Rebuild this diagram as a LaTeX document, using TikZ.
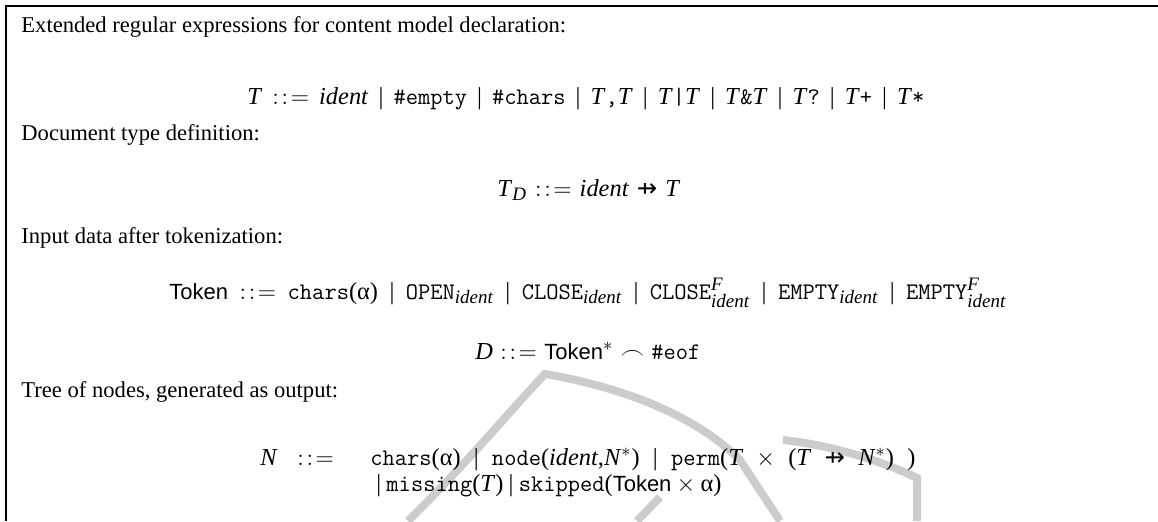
\documentclass[tikz,border=0pt]{standalone}
\usepackage{amsmath}
\usepackage{fontspec}
\setmainfont{Liberation Serif}
\setsansfont{Liberation Sans}
\newfontfamily\dvsfont{DejaVu Sans}
\newcommand\pfun{{\dvsfont ⇸}}
\newcommand\idt{\textit{ident}}
\newcommand\tI{\textit{T}}
\newcommand\tok{{\sffamily\fontsize{11}{13}\selectfont Token}}
\newcommand\mono[1]{{\ttfamily\fontsize{11.9}{14}\selectfont #1}}
\newcommand\xgap{\hskip 2.8pt plus 1fil minus 1.8pt\relax}
\newcommand\xalt{\xgap|\xgap}
\newcommand\ygap{\hskip 2.6pt\relax}
\newcommand\yalt{\ygap|\ygap}
\newcommand\xbnf{\xgap$:\mkern2mu:\mkern2mu=$\xgap}
\newcommand\xsub[1]{$_{\text{\fontsize{9.5}{11}\selectfont\itshape #1}}$}
\newcommand\xsubsup[2]{$^{\text{\fontsize{9.5}{11}\selectfont\itshape #2}}_{\text{\fontsize{9.5}{11}\selectfont\itshape #1}}$}
\definecolor{wm}{gray}{0.8}
\begin{document}
\begin{tikzpicture}[x=0.5pt,y=-0.5pt,
  every node/.style={inner sep=0pt,font=\fontsize{11.3}{13.6}\selectfont},
  txt/.style={anchor=base west},
  eqn/.style={anchor=base west,font=\fontsize{12.2}{14.6}\selectfont},
  frame/.style={line width=0.9pt},
  wmk/.style={draw=wm,line width=4pt}]
\useasboundingbox (0,0) rectangle (1158,521);
% watermark
\draw[wmk] (408,521) .. controls (470,460) and (515,405) .. (545,374)
  .. controls (610,385) and (690,410) .. (740,460) -- (780,521);
\draw[wmk] (783,440) .. controls (830,445) and (880,460) .. (917,478) -- (917,521);
\draw[wmk] (637,521) -- (660,497);
% frame
\coordinate (tl) at (6,6);
\coordinate (tr) at (1158,6);
\coordinate (bl) at (6,521);
\draw[frame] (tr) -- (tl) -- (bl);
% texts
\node[txt] (h1) at (21,32) {Extended regular expressions for content model declaration:};
\node[eqn] (e1) at (247,104) {\hbox to 338.5pt{\tI\xbnf\idt\xalt\mono{\#empty}\xalt\mono{\#chars}\xalt\tI\mono{,}\tI\xalt\tI\mono{|}\tI\xalt\tI\mono{\&}\tI\xalt\tI\mono{?}\xalt\tI\mono{+}\xalt\tI\mono{*}}};
\node[txt] (h2) at (21,140) {Document type definition:};
\node[eqn] (e2) at (497,196) {\hbox to 91.5pt{\tI\xsub{D}\xbnf\idt\xgap\pfun\xgap\tI}};
\node[txt] (h3) at (21,243) {Input data after tokenization:};
\node[eqn] (e3) at (169,299) {\hbox to 418.5pt{\tok\xbnf\mono{chars}(α)\xalt\mono{OPEN}\xsub{ident}\xalt\mono{CLOSE}\xsub{ident}\xalt\mono{CLOSE}\xsubsup{ident}{F}\xalt\mono{EMPTY}\xsub{ident}\xalt\mono{EMPTY}\xsubsup{ident}{F}}};
\node[eqn] (e4) at (475,359) {\hbox to 112.5pt{\textit{D}\xbnf\tok$^*$\xgap$\frown$\xgap\mono{\#eof}}};
\node[txt] (h4) at (21,397) {Tree of nodes, generated as output:};
\node[eqn] (n) at (260,465) {\textit{N}};
\node[eqn] (def) at (297,465) {$:\mkern2mu:\mkern2mu=$};
\node[eqn] (r1) at (370,465) {\hbox to 272.5pt{\mono{chars}(α)\xalt\mono{node}(\idt,\textit{N}$^*$)\xalt\mono{perm}(\tI\xgap$\times$\xgap(\tI\xgap\pfun\xgap\textit{N}$^*$)\xgap)}};
\node[eqn] (r2) at (376,491) {|\ygap\mono{missing}(\tI)\yalt\mono{skipped}(\tok\ygap$\times$\ygap α)};
\end{tikzpicture}
\end{document}
